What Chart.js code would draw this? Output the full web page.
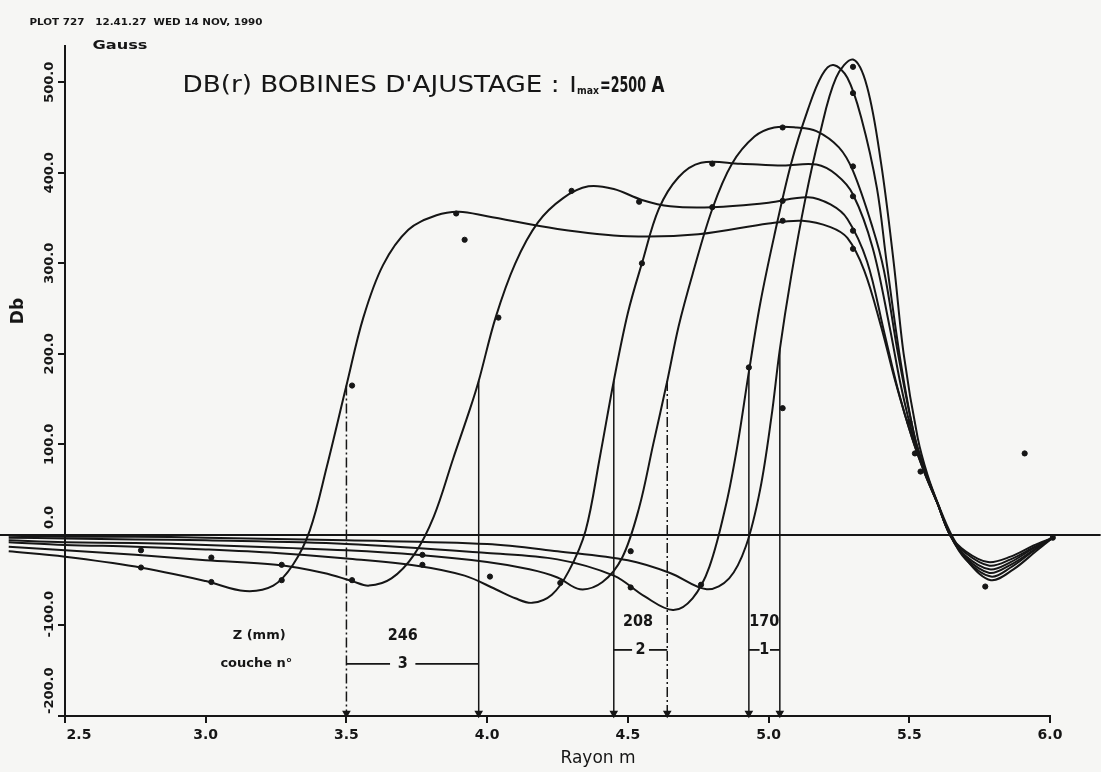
<!DOCTYPE html>
<html>
<head>
<meta charset="utf-8">
<script src="https://cdn.jsdelivr.net/npm/chart.js@4.4.1/dist/chart.umd.min.js"></script>
<style>
  html, body { margin: 0; padding: 0; background: #f6f6f4; }
  #wrap { width: 1101px; height: 772px; position: relative; }
</style>
</head>
<body>
<div id="wrap"><canvas id="dbChart"></canvas></div>
<script>
const xTicks = [2.5, 3.0, 3.5, 4.0, 4.5, 5.0, 5.5, 6.0];
const yTicks = [-200, -100, 0, 100, 200, 300, 400, 500];

// six profils Db(r), en gauss
const c1R = [2.30, 2.50, 2.75, 3.00, 3.14, 3.24, 3.31, 3.37, 3.43, 3.50, 3.56, 3.63, 3.72, 3.82, 3.90, 4.00, 4.25, 4.50, 4.75, 5.00, 5.12, 5.22, 5.28, 5.34, 5.40, 5.45, 5.51, 5.555, 5.60, 5.645, 5.70, 5.78, 5.86, 5.94, 6.01];
const c1B = [-18, -24, -35, -51, -62, -56, -33, 5, 75, 165, 240, 298, 337, 353, 357, 352, 338, 330, 332, 344, 347, 340, 328, 292, 230, 170, 107, 68, 35, 0, -18, -30, -24, -12, -3];

const c2R = [2.30, 2.50, 2.75, 3.00, 3.25, 3.42, 3.52, 3.58, 3.66, 3.74, 3.81, 3.88, 3.94, 3.97, 4.03, 4.10, 4.18, 4.27, 4.36, 4.45, 4.55, 4.65, 4.80, 5.00, 5.14, 5.22, 5.28, 5.35, 5.41, 5.46, 5.51, 5.555, 5.60, 5.645, 5.70, 5.785, 5.86, 5.94, 6.01];
const c2B = [-13, -17, -22, -28, -33, -42, -51, -56, -48, -22, 20, 85, 140, 170, 240, 300, 345, 372, 385, 382, 370, 363, 362, 367, 373, 365, 349, 302, 225, 160, 107, 68, 35, 0, -20, -34, -27, -14, -3];

const c3R = [2.30, 2.50, 2.75, 3.00, 3.25, 3.50, 3.75, 3.92, 4.03, 4.10, 4.16, 4.23, 4.29, 4.35, 4.40, 4.45, 4.50, 4.55, 4.61, 4.68, 4.76, 4.90, 5.05, 5.17, 5.24, 5.30, 5.37, 5.43, 5.47, 5.515, 5.56, 5.60, 5.645, 5.70, 5.785, 5.86, 5.94, 6.01];
const c3B = [-8, -11, -13, -16, -20, -26, -34, -45, -60, -70, -75, -66, -40, 5, 85, 170, 245, 300, 360, 395, 411, 410, 408, 409, 398, 376, 317, 230, 165, 107, 65, 35, 0, -23, -38, -30, -15, -3];

const c4R = [2.30, 2.50, 2.75, 3.00, 3.25, 3.50, 3.75, 4.00, 4.15, 4.25, 4.33, 4.41, 4.48, 4.54, 4.59, 4.64, 4.68, 4.73, 4.80, 4.87, 4.95, 5.02, 5.10, 5.17, 5.25, 5.30, 5.37, 5.41, 5.46, 5.52, 5.56, 5.60, 5.645, 5.70, 5.785, 5.86, 5.94, 6.01];
const c4B = [-6, -8, -9, -11, -14, -17, -22, -30, -38, -47, -60, -52, -25, 30, 100, 170, 230, 288, 360, 410, 440, 450, 450, 446, 428, 402, 339, 292, 200, 107, 68, 35, 0, -25, -42, -33, -17, -3];

const c5R = [2.30, 2.50, 2.75, 3.00, 3.50, 4.00, 4.25, 4.45, 4.56, 4.66, 4.73, 4.79, 4.85, 4.89, 4.93, 4.97, 5.02, 5.08, 5.14, 5.19, 5.23, 5.28, 5.33, 5.385, 5.42, 5.47, 5.52, 5.56, 5.60, 5.645, 5.70, 5.79, 5.86, 5.94, 6.01];
const c5B = [-3, -4, -5, -6, -10, -20, -27, -45, -68, -83, -70, -35, 35, 100, 180, 255, 330, 410, 470, 508, 519, 505, 460, 383, 300, 190, 107, 68, 35, 0, -27, -46, -36, -18, -3];

const c6R = [2.30, 2.50, 2.75, 3.00, 3.50, 4.00, 4.25, 4.50, 4.65, 4.78, 4.86, 4.92, 4.97, 5.01, 5.04, 5.08, 5.13, 5.18, 5.24, 5.30, 5.35, 5.40, 5.445, 5.48, 5.53, 5.565, 5.605, 5.65, 5.71, 5.79, 5.87, 5.95, 6.01];
const c6B = [-1, -2, -2, -3, -6, -10, -18, -28, -42, -60, -48, -12, 50, 130, 205, 285, 370, 440, 505, 525, 495, 410, 300, 200, 107, 66, 32, 0, -30, -50, -38, -18, -3];

// points de mesure visibles
const dotR = [2.77, 2.77, 3.02, 3.02, 3.27, 3.27, 3.52, 3.52, 3.77, 3.77, 3.89, 3.92, 4.01, 4.04, 4.26, 4.30, 4.51, 4.51, 4.54, 4.55, 4.76, 4.80, 4.80, 4.93, 5.05, 5.05, 5.05, 5.05, 5.30, 5.30, 5.30, 5.30, 5.30, 5.30, 5.50, 5.52, 5.54, 5.77, 5.91, 6.01];
const dotB = [-36, -17, -52, -25, -50, -33, 165, -50, -33, -22, 355, 326, -46, 240, -53, 380, -58, -18, 368, 300, -55, 410, 362, 185, 450, 369, 347, 140, 517, 488, 407, 374, 336, 316, 125, 90, 70, -57, 90, -3];

// limites des couches (r) et depart des traits verticaux (gauss)
const markR = [3.50, 3.97, 4.45, 4.64, 4.93, 5.04];
const markTop = [165, 170, 170, 170, 180, 205];

// fleches horizontales des couches
const spanFrom = [3.50, 3.745, 4.45, 4.575, 4.93, 5.005];
const spanTo = [3.655, 3.97, 4.515, 4.64, 4.968, 5.04];
const spanB = [-142.5, -142.5, -127, -127, -127, -127];

const noteText = ['Z (mm)', 'couche n°', '246', '3', '208', '2', '170', '1'];
const noteR = [3.19, 3.18, 3.70, 3.70, 4.536, 4.545, 4.985, 4.985];
const noteB = [-111.5, -142.5, -111.5, -142.5, -96, -127, -96, -127];

const INK = '#161616';

function pts(rs, bs) {
  return rs.map((r, i) => ({ x: r, y: bs[i] }));
}

function curve(rs, bs) {
  return {
    data: pts(rs, bs),
    borderColor: INK,
    borderWidth: 2,
    pointRadius: 0,
    tension: 0.35,
    clip: false
  };
}

function fitText(c, s, cx, cy, w) {
  const m = c.measureText(s).width;
  c.save();
  c.translate(cx, cy);
  c.scale(w / m, 1);
  c.fillText(s, 0, 0);
  c.restore();
}

const datasets = [];

// axe zero, trace sur toute la largeur
datasets.push({
  data: [{ x: 2.269, y: 0 }, { x: 6.18, y: 0 }],
  borderColor: INK, borderWidth: 2, pointRadius: 0, clip: false
});

[[c1R, c1B], [c2R, c2B], [c3R, c3B], [c4R, c4B], [c5R, c5B], [c6R, c6B]]
  .forEach(([r, b]) => datasets.push(curve(r, b)));

markR.forEach((r, i) => {
  datasets.push({
    data: [{ x: r, y: markTop[i] }, { x: r, y: -197 }],
    borderColor: INK,
    borderWidth: 1.5,
    borderDash: (i === 0 || i === 3) ? [10, 3, 2, 3] : [],
    pointRadius: [0, 3.5],
    pointStyle: 'triangle',
    rotation: 180,
    pointBackgroundColor: INK,
    pointBorderColor: INK,
    clip: false
  });
});

spanFrom.forEach((r, i) => {
  datasets.push({
    data: [{ x: r, y: spanB[i] }, { x: spanTo[i], y: spanB[i] }],
    borderColor: INK, borderWidth: 1.8, pointRadius: 0
  });
});

datasets.push({
  type: 'scatter',
  data: pts(dotR, dotB),
  showLine: false,
  pointRadius: 2.6,
  pointBackgroundColor: INK,
  pointBorderColor: INK,
  clip: false
});

const textPlugin = {
  id: 'plotText',
  beforeDraw(chart) {
    const c = chart.ctx;
    c.save();
    c.fillStyle = '#f6f6f4';
    c.fillRect(0, 0, chart.width, chart.height);
    c.restore();
  },
  afterDraw(chart) {
    const c = chart.ctx;
    const xs = chart.scales.x;
    const ys = chart.scales.y;
    c.save();
    c.fillStyle = INK;
    c.textAlign = 'center';
    c.textBaseline = 'middle';

    c.font = 'bold 14px "DejaVu Sans"';
    xTicks.forEach((v, i) => {
      const px = xs.getPixelForValue(v) + (i === 0 ? 14 : 0);
      c.fillText(v.toFixed(1), px, 735);
    });

    // libelles verticaux; les negatifs et le zero remontent au-dessus du trait
    c.font = 'bold 13px "DejaVu Sans"';
    yTicks.forEach(v => {
      const py = ys.getPixelForValue(v);
      c.save();
      if (v < 0 || v === 0) {
        const start = v === -200 ? py - 2 : v === -100 ? py + 12 : py - 6;
        c.translate(50, start);
        c.rotate(-Math.PI / 2);
        c.textAlign = 'left';
      } else {
        c.translate(50, py);
        c.rotate(-Math.PI / 2);
      }
      c.fillText(v.toFixed(1), 0, 0);
      c.restore();
    });

    noteText.forEach((t, i) => {
      const big = /^\d+$/.test(t);
      c.font = big ? 'bold 16px "DejaVu Sans"' : 'bold 13px "DejaVu Sans"';
      const w = c.measureText(t).width * (big ? 0.9 : 1);
      fitText(c, t, xs.getPixelForValue(noteR[i]), ys.getPixelForValue(noteB[i]), w);
    });

    // en-tete du traceur
    c.font = 'bold 9px "DejaVu Sans"';
    fitText(c, 'PLOT 727   12.41.27  WED 14 NOV, 1990', 146, 23, 233);

    c.font = 'bold 13px "DejaVu Sans"';
    fitText(c, 'Gauss', 120, 46, 55);

    // titre
    c.font = '23px "DejaVu Sans"';
    fitText(c, "DB(r) BOBINES D'AJUSTAGE :", 371, 86, 377);
    c.font = 'bold 22px "DejaVu Sans"';
    fitText(c, 'I', 573, 86, 5);
    c.font = 'bold 10px "DejaVu Sans"';
    fitText(c, 'max', 588, 91, 22);
    c.font = 'bold 22px "DejaVu Sans"';
    fitText(c, '=2500', 623, 86, 46);
    fitText(c, 'A', 658, 86, 13);

    // titres des axes
    c.font = 'bold 17px "DejaVu Sans"';
    c.save();
    c.translate(19, 311);
    c.rotate(-Math.PI / 2);
    c.fillText('Db', 0, 0);
    c.restore();

    c.font = '17px "DejaVu Sans"';
    c.fillText('Rayon m', 598, 759);
    c.restore();
  }
};

new Chart(document.getElementById('dbChart'), {
  type: 'line',
  data: { datasets },
  plugins: [textPlugin],
  options: {
    responsive: true,
    maintainAspectRatio: false,
    animation: false,
    layout: { padding: { top: 46, right: 51, left: 0, bottom: 0 } },
    plugins: {
      legend: { display: false },
      tooltip: { enabled: false },
      title: { display: false }
    },
    scales: {
      x: {
        type: 'linear',
        min: 2.5,
        max: 6.0,
        afterBuildTicks: s => { s.ticks = xTicks.map(v => ({ value: v })); },
        afterFit: s => { s.height = 56; },
        ticks: { display: false },
        grid: { drawOnChartArea: false, color: INK, lineWidth: 2, tickLength: 7 },
        border: { color: INK, width: 2 }
      },
      y: {
        type: 'linear',
        min: -200,
        max: 540,
        afterBuildTicks: s => { s.ticks = yTicks.map(v => ({ value: v })); },
        afterFit: s => { s.width = 65; },
        ticks: { display: false },
        grid: { drawOnChartArea: false, color: INK, lineWidth: 2, tickLength: 7 },
        border: { color: INK, width: 2 }
      }
    }
  }
});
</script>
</body>
</html>
